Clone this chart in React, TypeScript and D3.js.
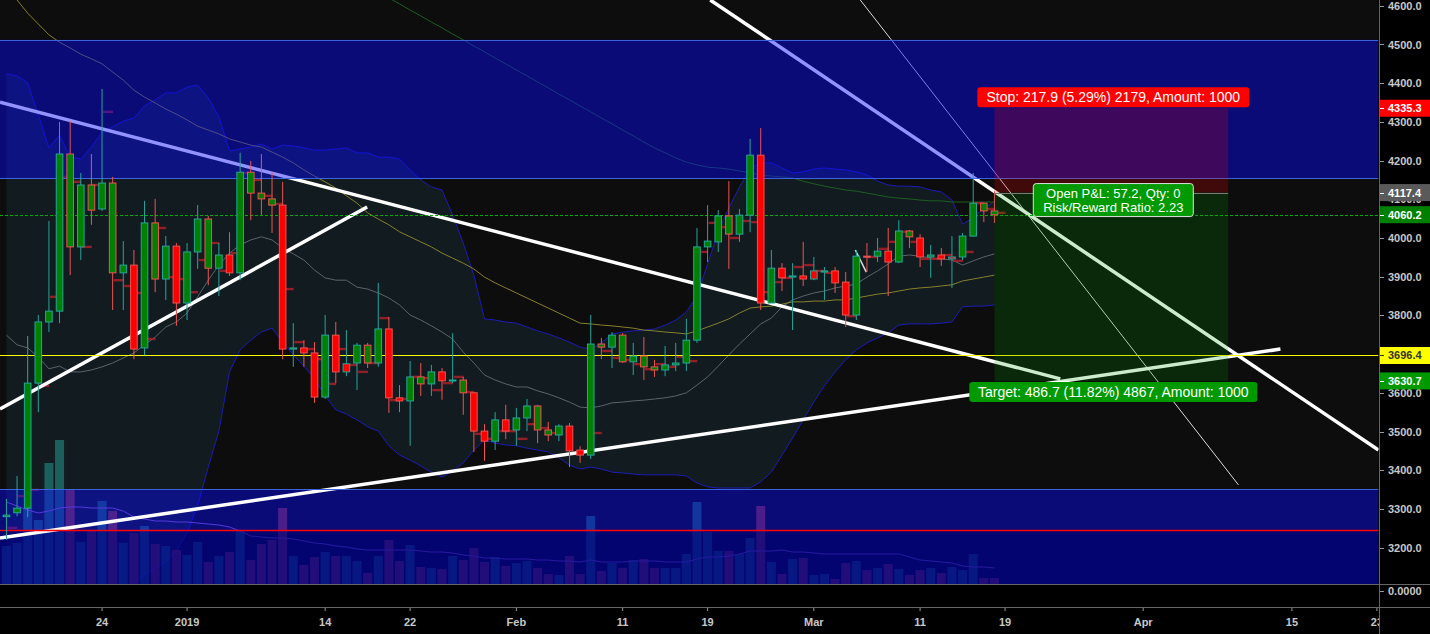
import React from 'react';
import * as d3 from 'd3';

const DAY = 86400000;
const ANCHOR = Date.UTC(2018, 11, 24);
const W = 1430;
const H = 634;
const PLOT_R = 1378.5;
const PANE_B = 584;
const AXIS_B = 607;
const FONT = '"Liberation Sans", Arial, sans-serif';

// daily candles, 15 Dec 2018 .. 18 Mar 2019 : [open, high, low, close]
const ohlc: number[][] = [
  [3280, 3326, 3220, 3284], [3290, 3385, 3281, 3302], [3302, 3747, 3279, 3625], [3625, 3801, 3550, 3783],
  [3783, 4044, 3757, 3811], [3811, 4300, 3780, 4217], [4217, 4302, 3904, 3977], [3977, 4168, 3943, 4137],
  [4137, 4217, 4034, 4072], [4075, 4385, 4070, 4142], [4142, 4158, 3814, 3910], [3910, 3992, 3814, 3930],
  [3930, 3969, 3687, 3713], [3716, 4096, 3697, 4039], [4039, 4101, 3860, 3894], [3894, 4005, 3840, 3979],
  [3979, 3987, 3773, 3832], [3832, 3987, 3788, 3964], [3964, 4085, 3920, 4049], [4049, 4057, 3878, 3922],
  [3922, 3987, 3850, 3956], [3956, 4015, 3902, 3910], [3910, 4220, 3891, 4170], [4170, 4199, 4046, 4116],
  [4116, 4217, 4060, 4101], [4101, 4170, 4013, 4085], [4085, 4145, 3687, 3713], [3713, 3780, 3667, 3716],
  [3716, 3736, 3667, 3703], [3703, 3731, 3574, 3589], [3589, 3801, 3584, 3749], [3749, 3783, 3625, 3654],
  [3654, 3762, 3643, 3675], [3677, 3729, 3607, 3723], [3723, 3729, 3664, 3677], [3677, 3884, 3667, 3765],
  [3765, 3796, 3548, 3587], [3587, 3620, 3550, 3579], [3579, 3682, 3463, 3641], [3641, 3677, 3592, 3623],
  [3623, 3672, 3592, 3654], [3654, 3664, 3582, 3631], [3631, 3754, 3625, 3633], [3633, 3641, 3543, 3600],
  [3600, 3600, 3447, 3501], [3501, 3519, 3424, 3475], [3475, 3550, 3452, 3530], [3530, 3569, 3480, 3501],
  [3504, 3561, 3463, 3535], [3535, 3584, 3501, 3566], [3566, 3569, 3470, 3504], [3504, 3525, 3475, 3491],
  [3491, 3519, 3475, 3514], [3514, 3522, 3408, 3450], [3452, 3462, 3419, 3439], [3439, 3801, 3429, 3726],
  [3726, 3742, 3687, 3718], [3718, 3757, 3664, 3749], [3749, 3754, 3677, 3680], [3680, 3729, 3646, 3695],
  [3695, 3744, 3633, 3667], [3667, 3685, 3641, 3659], [3659, 3721, 3643, 3672], [3672, 3729, 3656, 3677],
  [3677, 3791, 3656, 3736], [3736, 4026, 3729, 3977], [3977, 4085, 3938, 3992], [3990, 4072, 3964, 4057],
  [4057, 4147, 3920, 4010], [4010, 4075, 3990, 4059], [4059, 4256, 4015, 4214], [4214, 4284, 3814, 3832],
  [3832, 3969, 3832, 3922], [3922, 3935, 3863, 3897], [3899, 3935, 3762, 3902], [3902, 3990, 3876, 3894],
  [3894, 3951, 3891, 3915], [3912, 3925, 3840, 3915], [3915, 3925, 3858, 3884], [3886, 3912, 3770, 3801],
  [3801, 3969, 3788, 3953], [3953, 3987, 3912, 3951], [3953, 4000, 3938, 3966], [3966, 4026, 3850, 3938],
  [3938, 4046, 3935, 4018], [4018, 4021, 3974, 4003], [4000, 4010, 3925, 3951], [3951, 3982, 3897, 3956],
  [3956, 3974, 3928, 3946], [3946, 4005, 3871, 3951], [3951, 4013, 3943, 4005], [4005, 4168, 4003, 4090],
  [4090, 4090, 4041, 4070], [4070, 4121, 4039, 4060],
];

// body fill as painted on the chart (g = green, r = red)
const bodyFill = [
  'g', 'g', 'g', 'g', 'g', 'g', 'g', 'g', 'g', 'g',
  'g', 'g', 'r', 'g', 'g', 'g', 'r', 'g', 'g', 'g',
  'g', 'r', 'g', 'g', 'g', 'g', 'r', 'g', 'r', 'r',
  'g', 'r', 'r', 'g', 'g', 'g', 'r', 'r', 'g', 'g',
  'g', 'r', 'g', 'g', 'r', 'r', 'g', 'r', 'g', 'g',
  'g', 'g', 'g', 'r', 'r', 'g', 'g', 'g', 'g', 'g',
  'g', 'g', 'g', 'g', 'g', 'g', 'g', 'g', 'g', 'g',
  'g', 'r', 'g', 'r', 'g', 'r', 'r', 'g', 'r', 'r',
  'g', 'g', 'g', 'r', 'g', 'g', 'r', 'g', 'r', 'r',
  'g', 'g', 'g', 'g',
];

const volumes = [
  38, 41, 76, 64, 121, 144, 95, 42, 53, 83, 73, 41, 51, 58, 40, 38, 34, 29, 42, 22,
  28, 32, 54, 24, 40, 44, 76, 28, 19, 27, 32, 28, 28, 23, 11, 28, 44, 23, 39, 17,
  16, 15, 28, 24, 36, 22, 27, 18, 21, 23, 16, 10, 9, 28, 10, 68, 13, 21, 16, 24,
  25, 16, 16, 16, 30, 82, 52, 33, 33, 30, 46, 78, 22, 10, 25, 26, 9, 10, 5, 21,
  23, 14, 16, 20, 15, 9, 14, 16, 11, 17, 14, 30, 6, 6,
];

const volumeMa = [
  82, 78, 74, 71, 73, 76, 77, 77, 76, 76, 76, 73, 67, 65, 63, 63, 62, 62, 61, 60,
  59, 57, 53, 48, 47, 46, 46, 45, 43, 41, 40, 38, 37, 35, 34, 34, 34, 34, 34, 33,
  32, 32, 31, 29, 28, 26, 26, 25, 25, 25, 24, 24, 23, 23, 22, 24, 22, 22, 22, 23,
  23, 23, 22, 22, 22, 25, 27, 27, 28, 30, 33, 33, 33, 34, 32, 32, 31, 30, 30, 30,
  30, 30, 30, 30, 30, 27, 24, 23, 22, 21, 18, 17, 17, 16,
];

const bbUpper = [
  4424, 4419, 4401, 4318, 4233, 4266, 4209, 4204, 4235, 4274, 4287, 4302, 4310, 4341, 4357, 4375, 4375, 4390, 4395, 4362,
  4313, 4225, 4230, 4235, 4243, 4230, 4240, 4238, 4233, 4227, 4227, 4230, 4233, 4220, 4220, 4209, 4209, 4204, 4176, 4150,
  4132, 4124, 4059, 3987, 3904, 3791, 3788, 3783, 3780, 3770, 3760, 3752, 3742, 3731, 3718, 3713, 3729, 3752, 3757, 3760,
  3762, 3765, 3775, 3788, 3809, 3850, 3933, 4016, 4078, 4132, 4178, 4194, 4194, 4181, 4168, 4171, 4178, 4181, 4178, 4176,
  4171, 4163, 4147, 4137, 4134, 4134, 4132, 4124, 4119, 4098, 4036, 4052, 4078, 4093,
];

const bbBasis = [
  3749, 3724, 3716, 3692, 3662, 3669, 3654, 3654, 3659, 3667, 3677, 3690, 3703, 3724, 3744, 3770, 3783, 3806, 3848, 3891,
  3930, 3961, 3982, 3995, 4003, 3995, 3974, 3959, 3943, 3917, 3897, 3891, 3891, 3873, 3868, 3858, 3845, 3827, 3801, 3788,
  3773, 3757, 3739, 3705, 3677, 3646, 3633, 3623, 3615, 3615, 3605, 3597, 3587, 3576, 3563, 3561, 3566, 3574, 3576, 3579,
  3581, 3584, 3587, 3592, 3600, 3620, 3641, 3669, 3698, 3726, 3752, 3778, 3793, 3822, 3840, 3850, 3858, 3863, 3871, 3876,
  3881, 3899, 3915, 3933, 3953, 3956, 3953, 3948, 3946, 3943, 3930, 3941, 3951, 3959,
];

const bbLower = [
  2651, 2677, 2703, 2755, 2806, 2858, 2910, 2961, 3000, 3039, 3065, 3085, 3106, 3129, 3147, 3163, 3191, 3238, 3308, 3408,
  3501, 3654, 3711, 3736, 3757, 3767, 3731, 3698, 3669, 3636, 3592, 3556, 3545, 3530, 3512, 3501, 3463, 3439, 3426, 3411,
  3395, 3382, 3398, 3419, 3452, 3478, 3470, 3465, 3463, 3457, 3452, 3447, 3432, 3413, 3403, 3408, 3403, 3395, 3393, 3390,
  3388, 3388, 3388, 3388, 3385, 3367, 3357, 3354, 3354, 3354, 3354, 3370, 3395, 3439, 3483, 3530, 3576, 3618, 3654, 3685,
  3711, 3729, 3742, 3755, 3775, 3778, 3778, 3778, 3780, 3783, 3822, 3824, 3824, 3827,
];

const maMid = [
  4654, 4615, 4581, 4553, 4525, 4506, 4491, 4475, 4463, 4450, 4429, 4408, 4382, 4364, 4349, 4333, 4320, 4305, 4289, 4279,
  4269, 4256, 4248, 4240, 4235, 4222, 4209, 4194, 4176, 4160, 4145, 4129, 4109, 4090, 4065, 4049, 4034, 4016, 4003, 3990,
  3977, 3961, 3948, 3935, 3920, 3899, 3884, 3871, 3858, 3845, 3832, 3819, 3806, 3793, 3780, 3778, 3775, 3773, 3770, 3767,
  3762, 3760, 3757, 3755, 3752, 3760, 3770, 3780, 3791, 3806, 3819, 3822, 3824, 3829, 3835, 3835, 3837, 3837, 3840, 3840,
  3845, 3850, 3855, 3858, 3863, 3868, 3871, 3873, 3876, 3879, 3889, 3894, 3899, 3904,
];

const maLong: (number | null)[] = [
  null, null, null, null, null, null, null, null, null, null, null, null, null, null, null, null, null, null, null, null,
  null, null, null, null, null, null, null, null, null, null, null, null, null, null, null, null, 4620, 4605, 4589, 4574,
  4558, 4543, 4527, 4512, 4496, 4481, 4465, 4450, 4434, 4419, 4403, 4388, 4372, 4357, 4341, 4326, 4310, 4295, 4279, 4264,
  4248, 4233, 4220, 4207, 4196, 4189, 4183, 4181, 4178, 4173, 4168, 4163, 4160, 4158, 4155, 4147, 4140, 4134, 4129, 4124,
  4121, 4116, 4111, 4106, 4103, 4101, 4098, 4096, 4096, 4093, 4093, 4093, 4093, 4093,
];

// small dark red marks painted to the right of each bar
const marks: (number | null)[] = [
  3251, 3333, 3349, 3618, 3848, 4158, 4145, 3977, 4137, 4326, 3891, 3876, 3858, 3739, 4026, 3899, 3894, 3860, 3943, 3987,
  3915, 3961, 4168, 4150, 4109, 4088, 3868, 3731, 3713, 3687, 3623, 3713, 3672, 3654, 3677, 3793, 3581, 3584, 3641, 3638,
  3607, 3625, 3641, 3602, 3494, 3481, 3501, 3501, 3481, 3519, 3509, 3496, null, null, null, 3496, 3708, 3690, 3685, 3674,
  3661, 3674, 3667, 3693, 3682, 3964, 4039, 4028, 4000, 4044, 4041, 3860, 3886, 3897, 3925, 3930, 3915, 3910, null, 3798,
  null, 3951, 3972, 3990, 4016, 3990, 3946, 3946, 3956, 3941, 3964, 4090, 4075, 4065,
];

// drawn trend lines: [time, price, time, price, width]
const trendLines: [string, number, string, number, number][] = [
  ['2018-12-14T09:29Z', 4351, '2019-03-24T04:48Z', 3636, 3.5],
  ['2019-02-19T06:00Z', 4615, '2019-04-23T03:36Z', 3452, 3.5],
  ['2019-03-05T08:53Z', 4615, '2019-04-09T23:17Z', 3362, 1],
  ['2018-12-14T09:29Z', 3558, '2019-01-17T22:48Z', 4080, 3.5],
  ['2018-12-14T09:29Z', 3225, '2019-04-13T22:05Z', 3713, 3.5],
  ['2019-03-04T21:36Z', 3969, '2019-03-05T22:34Z', 3912, 1.5],
];

const topZone = [4155, 4512];
const bottomZone = 3351;
const redLevel = 3245;
const yellowLevel = 3696.4;
const lastPrice = 4060.2;

const entryPrice = 4117.4;
const stopPrice = 4335.3;
const targetPrice = 3630.7;
const posStart = '2019-03-18';
const posEnd = '2019-04-09';
const stopText = 'Stop: 217.9 (5.29%) 2179, Amount: 1000';
const targetText = 'Target: 486.7 (11.82%) 4867, Amount: 1000';
const pnlText = ['Open P&L: 57.2, Qty: 0', 'Risk/Reward Ratio: 2.23'];

const priceTicks = [3200, 3300, 3400, 3500, 3600, 3700, 3800, 3900, 4000, 4100, 4200, 4300, 4400, 4500, 4600];
const timeTicks: [string, string][] = [
  ['2018-12-24', '24'], ['2019-01-01', '2019'], ['2019-01-14', '14'], ['2019-01-22', '22'],
  ['2019-02-01', 'Feb'], ['2019-02-11', '11'], ['2019-02-19', '19'], ['2019-03-01', 'Mar'],
  ['2019-03-11', '11'], ['2019-03-19', '19'], ['2019-04-01', 'Apr'], ['2019-04-15', '15'], ['2019-04-23', '23'],
];
const priceTags: [number, string, string][] = [
  [stopPrice, '#ff0000', '#ffffff'],
  [entryPrice, '#5a5a5a', '#ffffff'],
  [lastPrice, '#008000', '#ffffff'],
  [yellowLevel, '#ffff00', '#333333'],
  [targetPrice, '#009900', '#ffffff'],
];

const UP = '#26a69a';
const DOWN = '#ef5350';

export default function App() {
  const x = d3
    .scaleUtc()
    .domain([new Date(ANCHOR - 9.605 * DAY), new Date(ANCHOR + 120.15 * DAY)])
    .range([0, PLOT_R]);
  const y = d3.scaleLinear().domain([3200, 4600]).range([547.6, 5.8]);
  const v = d3.scaleLinear().domain([0, 150]).range([PANE_B, PANE_B - 150]);
  const dates = d3.utcDay.range(new Date(Date.UTC(2018, 11, 15)), new Date(Date.UTC(2019, 2, 19)));
  const cx = (i: number) => x(dates[i]);
  const sy = (p: number) => Math.round(y(p)) + 0.5; // crisp 1px horizontals
  const fmt = d3.format('.1f');

  const band = d3
    .area<number>()
    .x((_, i) => cx(i))
    .y0((_, i) => y(bbLower[i]))
    .y1((d) => y(d));
  const priceLine = d3
    .line<number | null>()
    .defined((d) => d != null)
    .x((_, i) => cx(i))
    .y((d) => y(d as number));
  const volLine = d3
    .line<number>()
    .x((_, i) => cx(i))
    .y((d) => v(d));

  const bodyW = 6.6;
  const volW = 9;
  const px0 = x(new Date(posStart));
  const px1 = x(new Date(posEnd));
  const pmid = (px0 + px1) / 2 + 2;

  return (
    <svg width={W} height={H} style={{ position: 'fixed', left: 0, top: 0, background: '#000' }}>
      <defs>
        <clipPath id="plot">
          <rect x={0} y={0} width={PLOT_R} height={PANE_B} />
        </clipPath>
        <clipPath id="timeaxis">
          <rect x={0} y={AXIS_B} width={1379} height={H - AXIS_B} />
        </clipPath>
      </defs>

      <rect x={0} y={0} width={PLOT_R} height={PANE_B} fill="#0d0d0d" />

      <g clipPath="url(#plot)">
        {/* bollinger fill and indicator lines */}
        <path d={band(bbUpper) || ''} fill="rgba(60,150,190,0.11)" />
        <path d={priceLine(bbUpper) || ''} fill="none" stroke="#1c1cb4" strokeWidth={1} />
        <path d={priceLine(bbLower) || ''} fill="none" stroke="#1c1cb4" strokeWidth={1} />
        <path d={priceLine(bbBasis) || ''} fill="none" stroke="#59646c" strokeWidth={1} />
        <path d={priceLine(maMid) || ''} fill="none" stroke="#86812c" strokeWidth={1} />
        <path d={priceLine(maLong) || ''} fill="none" stroke="#1d5e21" strokeWidth={1} />

        {/* volume */}
        {volumes.map((vol, i) => (
          <rect
            key={'v' + i}
            x={cx(i) - volW / 2}
            y={v(vol)}
            width={volW}
            height={PANE_B - v(vol)}
            fill={ohlc[i][3] >= ohlc[i][0] ? 'rgba(38,166,154,0.5)' : 'rgba(239,83,80,0.5)'}
          />
        ))}
        <path d={volLine(volumeMa) || ''} fill="none" stroke="#8e5fbf" strokeWidth={1} />

        {marks.map((m, i) =>
          m == null ? null : (
            <rect key={'m' + i} x={cx(i) + 1} y={y(m) - 1.2} width={10} height={2.4} fill="#b3202a" opacity={0.8} />
          )
        )}

        {/* lower zone sits beneath the drawn lines */}
        <rect x={0} y={y(bottomZone)} width={PLOT_R} height={PANE_B - y(bottomZone)} fill="rgba(10,10,255,0.44)" />
        <rect x={0} y={y(redLevel)} width={PLOT_R} height={PANE_B - y(redLevel)} fill="rgba(0,0,110,0.55)" />

        {/* trend lines */}
        {trendLines.map(([t0, p0, t1, p1, w], i) => (
          <line
            key={'t' + i}
            x1={x(new Date(t0))}
            y1={y(p0)}
            x2={x(new Date(t1))}
            y2={y(p1)}
            stroke="#ffffff"
            strokeWidth={w}
            opacity={w < 2 ? 0.85 : 1}
          />
        ))}

        {/* upper zone covers the lines */}
        <rect x={0} y={y(topZone[1])} width={PLOT_R} height={y(topZone[0]) - y(topZone[1])} fill="rgba(10,10,255,0.44)" />
        <line x1={0} x2={PLOT_R} y1={sy(topZone[1])} y2={sy(topZone[1])} stroke="#3d63dc" />
        <line x1={0} x2={PLOT_R} y1={sy(topZone[0])} y2={sy(topZone[0])} stroke="#3d63dc" />
        <line x1={0} x2={PLOT_R} y1={sy(bottomZone)} y2={sy(bottomZone)} stroke="#3d63dc" />
        <line x1={0} x2={PLOT_R} y1={sy(redLevel)} y2={sy(redLevel)} stroke="#ff0000" strokeWidth={1.5} />
        <line x1={0} x2={PLOT_R} y1={sy(yellowLevel)} y2={sy(yellowLevel)} stroke="#ffff00" />
        <line
          x1={0}
          x2={PLOT_R}
          y1={sy(lastPrice)}
          y2={sy(lastPrice)}
          stroke="#00b000"
          strokeDasharray="3,2"
        />

        {/* candles */}
        {ohlc.map(([o, h, l, c], i) => {
          const col = c >= o ? UP : DOWN;
          const top = y(Math.max(o, c));
          const bot = y(Math.min(o, c));
          return (
            <g key={'c' + i}>
              <line x1={cx(i)} x2={cx(i)} y1={y(h)} y2={y(l)} stroke={col} strokeWidth={1} />
              <rect
                x={cx(i) - bodyW / 2}
                y={top}
                width={bodyW}
                height={Math.max(bot - top, 1)}
                fill={bodyFill[i] === 'g' ? '#008000' : '#ff0000'}
                stroke={col}
                strokeWidth={1}
              />
            </g>
          );
        })}

        {/* short position tool */}
        <rect x={px0} y={y(stopPrice)} width={px1 - px0} height={y(entryPrice) - y(stopPrice)} fill="rgba(255,0,0,0.21)" />
        <rect x={px0} y={y(entryPrice)} width={px1 - px0} height={y(targetPrice) - y(entryPrice)} fill="rgba(0,150,0,0.2)" />
        <line x1={px0} x2={px1} y1={sy(entryPrice)} y2={sy(entryPrice)} stroke="#7a7a7a" />

        <rect x={pmid - 136} y={y(stopPrice) - 21} width={272} height={20} rx={3} fill="#ff0000" />
        <text x={pmid} y={y(stopPrice) - 6} textAnchor="middle" fill="#fff" fontFamily={FONT} fontSize={14}>
          {stopText}
        </text>

        <rect x={pmid - 80} y={y(entryPrice) - 9} width={160} height={33} rx={3} fill="#009900" stroke="#e0e0e0" />
        <text x={pmid} y={y(entryPrice) + 5} textAnchor="middle" fill="#fff" fontFamily={FONT} fontSize={13}>
          {pnlText[0]}
        </text>
        <text x={pmid} y={y(entryPrice) + 19} textAnchor="middle" fill="#fff" fontFamily={FONT} fontSize={13}>
          {pnlText[1]}
        </text>

        <rect x={pmid - 144} y={y(targetPrice) + 1} width={288} height={20} rx={3} fill="#009900" />
        <text x={pmid} y={y(targetPrice) + 16} textAnchor="middle" fill="#fff" fontFamily={FONT} fontSize={14}>
          {targetText}
        </text>
      </g>

      {/* pane separators and axes */}
      <line x1={0} x2={W} y1={PANE_B + 0.5} y2={PANE_B + 0.5} stroke="#666" />
      <line x1={0} x2={W} y1={AXIS_B + 0.5} y2={AXIS_B + 0.5} stroke="#666" />
      <line x1={1379.5} x2={1379.5} y1={0} y2={H} stroke="#666" />

      {priceTicks.map((p) => (
        <g key={'p' + p}>
          <line x1={1380} x2={1384} y1={sy(p)} y2={sy(p)} stroke="#999" />
          <text x={1388} y={y(p) + 4} fill="#c8c8c8" fontFamily={FONT} fontSize={11} fontWeight="bold">
            {fmt(p)}
          </text>
        </g>
      ))}
      <line x1={1380} x2={1384} y1={591.5} y2={591.5} stroke="#999" />
      <text x={1388} y={595} fill="#c8c8c8" fontFamily={FONT} fontSize={11} fontWeight="bold">
        0.0000
      </text>

      {priceTags.map(([p, bg, fg]) => (
        <g key={'tag' + p}>
          <rect x={1380} y={y(p) - 8.5} width={W - 1380} height={17} fill={bg} />
          <line x1={1380} x2={1384} y1={sy(p)} y2={sy(p)} stroke={fg} />
          <text x={1388} y={y(p) + 4} fill={fg} fontFamily={FONT} fontSize={11} fontWeight="bold">
            {fmt(p)}
          </text>
        </g>
      ))}

      <g clipPath="url(#timeaxis)">
        {timeTicks.map(([d, label]) => {
          const tx = x(new Date(d));
          return (
            <g key={'d' + d}>
              <line x1={tx} x2={tx} y1={AXIS_B + 1} y2={AXIS_B + 4} stroke="#999" />
              <text x={tx} y={626} textAnchor="middle" fill="#c8c8c8" fontFamily={FONT} fontSize={11} fontWeight="bold">
                {label}
              </text>
            </g>
          );
        })}
      </g>
    </svg>
  );
}
